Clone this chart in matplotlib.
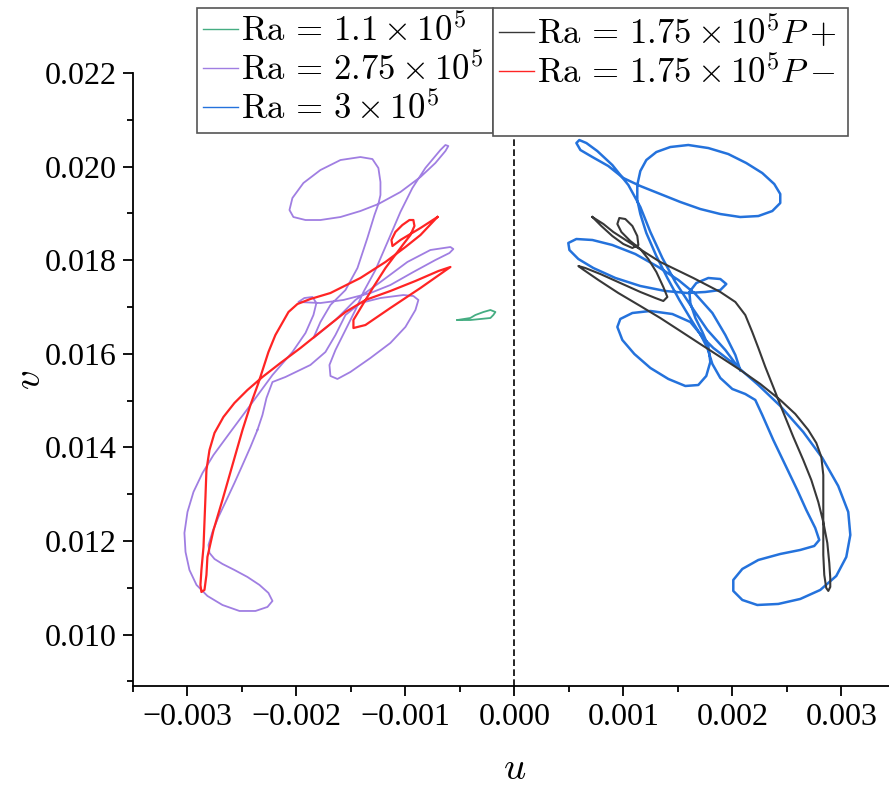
import numpy as np
import matplotlib.pyplot as plt
from matplotlib.lines import Line2D
from matplotlib.ticker import MultipleLocator, FuncFormatter

plt.rcParams['font.family'] = 'Liberation Serif'
plt.rcParams['mathtext.fontset'] = 'cm'

# trajectories in the (u, v) plane, values in units of 1e-3
u_ra11 = [-0.523, -0.404, -0.358, -0.284, -0.220, -0.174, -0.193, -0.220, -0.404, -0.523]
v_ra11 = [16.722, 16.765, 16.829, 16.893, 16.936, 16.893, 16.829, 16.765, 16.722, 16.722]

u_ra275 = [-2.358, -2.422, -2.495, -2.569, -2.642, -2.716, -2.771, -2.807, -2.798, -2.752,
           -2.679, -2.569, -2.450, -2.339, -2.257, -2.220, -2.266, -2.376, -2.523, -2.679,
           -2.817, -2.917, -2.982, -3.018, -3.028, -3.000, -2.945, -2.862, -2.761, -2.606,
           -2.422, -2.220, -2.037, -1.917, -1.844, -1.817, -1.853, -1.927, -1.982, -1.780,
           -1.569, -1.321, -1.138, -0.927, -0.725, -0.596, -0.560, -0.587, -0.771, -0.982,
           -1.229, -1.459, -1.642, -1.844, -1.780, -1.688, -1.550, -1.440, -1.349, -1.284,
           -1.248, -1.229, -1.229, -1.248, -1.303, -1.413, -1.596, -1.780, -1.936, -2.037,
           -2.064, -2.028, -1.917, -1.780, -1.596, -1.413, -1.248, -1.046, -0.862, -0.725,
           -0.633, -0.606, -0.633, -0.679, -0.817, -0.936, -1.046, -1.156, -1.275, -1.385,
           -1.459, -1.550, -1.642, -1.697, -1.688, -1.624, -1.505, -1.321, -1.138, -1.000,
           -0.908, -0.881, -0.927, -1.018, -1.229, -1.413, -1.550, -1.642, -1.734, -1.872,
           -2.101, -2.220, -2.275, -2.312, -2.358]
v_ra275 = [14.372, 14.009, 13.624, 13.239, 12.876, 12.513, 12.192, 11.915, 11.744, 11.615,
           11.509, 11.380, 11.231, 11.060, 10.889, 10.718, 10.590, 10.504, 10.504, 10.632,
           10.825, 11.060, 11.380, 11.765, 12.171, 12.620, 13.047, 13.453, 13.838, 14.329,
           14.906, 15.547, 16.038, 16.444, 16.829, 17.085, 17.214, 17.192, 17.107, 17.085,
           17.150, 17.299, 17.470, 17.748, 18.004, 18.154, 18.239, 18.282, 18.218, 17.962,
           17.534, 17.150, 16.722, 16.338, 16.679, 17.043, 17.363, 17.833, 18.474, 18.966,
           19.201, 19.393, 19.671, 19.970, 20.162, 20.205, 20.141, 19.927, 19.650, 19.329,
           19.073, 18.923, 18.859, 18.859, 18.923, 19.051, 19.201, 19.457, 19.778, 20.077,
           20.333, 20.440, 20.462, 20.355, 19.970, 19.543, 19.030, 18.432, 17.791, 17.321,
           16.936, 16.509, 16.081, 15.761, 15.526, 15.462, 15.611, 15.910, 16.231, 16.573,
           16.936, 17.150, 17.235, 17.256, 17.192, 17.085, 16.829, 16.402, 16.038, 15.761,
           15.504, 15.397, 15.056, 14.692, 14.372]

u_ra3 = [2.073, 1.936, 1.771, 1.615, 1.477, 1.358, 1.248, 1.156, 1.046, 0.899,
         0.761, 0.661, 0.596, 0.569, 0.606, 0.716, 0.862, 1.000, 1.156, 1.339,
         1.523, 1.706, 1.890, 2.073, 2.239, 2.367, 2.440, 2.440, 2.385, 2.275,
         2.128, 1.963, 1.780, 1.596, 1.431, 1.303, 1.211, 1.156, 1.128, 1.128,
         1.156, 1.211, 1.303, 1.404, 1.514, 1.624, 1.716, 1.826, 2.028, 2.239,
         2.440, 2.651, 2.826, 2.972, 3.064, 3.083, 3.046, 2.954, 2.807, 2.624,
         2.422, 2.229, 2.092, 2.009, 2.009, 2.092, 2.239, 2.440, 2.624, 2.752,
         2.798, 2.761, 2.679, 2.596, 2.486, 2.376, 2.275, 2.211, 2.119, 2.000,
         1.890, 1.817, 1.771, 1.706, 1.615, 1.450, 1.248, 1.083, 0.972, 0.945,
         0.991, 1.101, 1.248, 1.413, 1.569, 1.688, 1.761, 1.798, 1.780, 1.725,
         1.661, 1.615, 1.606, 1.670, 1.780, 1.890, 1.945, 1.890, 1.752, 1.587,
         1.385, 1.156, 0.927, 0.725, 0.587, 0.505, 0.495, 0.569, 0.716, 0.899,
         1.110, 1.321, 1.505, 1.661, 1.817, 1.936, 2.028, 2.073]
v_ra3 = [15.654, 16.081, 16.509, 17.043, 17.534, 18.047, 18.603, 19.137, 19.607, 20.034,
         20.333, 20.504, 20.568, 20.504, 20.355, 20.205, 20.013, 19.756, 19.585, 19.415,
         19.244, 19.094, 18.987, 18.923, 18.944, 19.051, 19.222, 19.415, 19.628, 19.863,
         20.077, 20.269, 20.397, 20.462, 20.419, 20.312, 20.141, 19.906, 19.607, 19.286,
         18.987, 18.581, 18.090, 17.620, 17.150, 16.722, 16.380, 16.124, 15.761, 15.333,
         14.885, 14.329, 13.774, 13.175, 12.620, 12.128, 11.658, 11.252, 10.953, 10.761,
         10.654, 10.632, 10.739, 10.932, 11.167, 11.402, 11.594, 11.722, 11.808, 11.893,
         12.021, 12.278, 12.662, 13.090, 13.624, 14.158, 14.692, 15.013, 15.141, 15.248,
         15.483, 15.782, 16.124, 16.423, 16.679, 16.850, 16.915, 16.872, 16.744, 16.573,
         16.295, 15.996, 15.697, 15.462, 15.312, 15.333, 15.526, 15.825, 16.167, 16.466,
         16.765, 17.085, 17.321, 17.513, 17.620, 17.598, 17.491, 17.363, 17.321, 17.299,
         17.342, 17.449, 17.620, 17.833, 18.026, 18.218, 18.368, 18.453, 18.432, 18.325,
         18.132, 17.855, 17.577, 17.278, 16.872, 16.402, 15.974, 15.654]

u_pplus = [0.716, 0.817, 0.908, 1.092, 1.339, 1.642, 1.890, 2.028, 2.119, 2.183,
           2.239, 2.303, 2.376, 2.459, 2.560, 2.651, 2.725, 2.789, 2.835, 2.872,
           2.890, 2.899, 2.899, 2.881, 2.862, 2.844, 2.835, 2.835, 2.835, 2.835,
           2.817, 2.771, 2.697, 2.578, 2.440, 2.257, 2.073, 1.890, 1.706, 1.523,
           1.339, 1.156, 0.954, 0.771, 0.624, 0.587, 0.651, 0.789, 0.972, 1.156,
           1.294, 1.367, 1.404, 1.367, 1.303, 1.229, 1.156, 1.064, 0.982, 0.945,
           0.963, 1.018, 1.083, 1.128, 1.138, 1.083, 1.000, 0.899, 0.798, 0.716]
v_pplus = [18.923, 18.774, 18.603, 18.325, 17.962, 17.620, 17.321, 17.107, 16.829, 16.466,
           16.124, 15.718, 15.291, 14.799, 14.222, 13.731, 13.303, 12.833, 12.406, 11.957,
           11.530, 11.209, 11.017, 10.932, 10.996, 11.274, 11.701, 12.235, 12.876, 13.410,
           13.795, 14.094, 14.372, 14.714, 15.013, 15.355, 15.654, 15.932, 16.209, 16.487,
           16.765, 17.021, 17.299, 17.577, 17.812, 17.876, 17.833, 17.705, 17.513, 17.321,
           17.192, 17.128, 17.214, 17.427, 17.748, 18.026, 18.239, 18.410, 18.603, 18.774,
           18.902, 18.880, 18.731, 18.517, 18.325, 18.261, 18.346, 18.517, 18.731, 18.923]

u_pminus = [-0.706, -0.862, -1.046, -1.119, -1.128, -1.092, -1.028, -0.963, -0.927, -0.917,
            -0.954, -1.018, -1.073,
            -1.183, -1.294, -1.394, -1.477, -1.477, -1.367, -1.138, -0.862, -0.587, -0.697,
            -0.908, -1.138, -1.367, -1.550, -1.780, -1.963, -2.147, -2.312, -2.450, -2.569,
            -2.670, -2.752, -2.798, -2.826, -2.835, -2.853, -2.872, -2.881, -2.872, -2.844,
            -2.826, -2.817, -2.761, -2.679, -2.587, -2.495, -2.422, -2.349, -2.257, -2.193,
            -2.073, -1.991, -1.872, -1.688, -1.413, -1.183, -1.000, -0.862, -0.706]
v_pminus = [18.923, 18.688, 18.432, 18.303, 18.432, 18.603, 18.752, 18.859, 18.859, 18.731,
            18.538, 18.346, 18.175,
            17.833, 17.427, 17.043, 16.722, 16.551, 16.615, 16.979, 17.406, 17.855, 17.769,
            17.556, 17.342, 17.150, 16.893, 16.466, 16.124, 15.803, 15.504, 15.226, 14.949,
            14.650, 14.308, 13.944, 13.517, 12.940, 11.872, 11.380, 11.060, 10.910, 10.953,
            11.274, 11.658, 12.235, 12.876, 13.624, 14.372, 14.906, 15.376, 16.038, 16.402,
            16.893, 17.064, 17.171, 17.299, 17.620, 17.962, 18.282, 18.538, 18.923]

labels_left = [r'$\mathrm{Ra}\,=\,1.1\times10^5$', r'$\mathrm{Ra}\,=\,2.75\times10^5$',
               r'$\mathrm{Ra}\,=\,3\times10^5$']
labels_right = [r'$\mathrm{Ra}\,=\,1.75\times10^5P+$', r'$\mathrm{Ra}\,=\,1.75\times10^5P-$']

c_ra11, c_ra275, c_ra3 = '#45ad82', '#a07ee2', '#2472dc'
c_pplus, c_pminus = '#383838', '#ff2424'

fig = plt.figure(figsize=(8.89, 7.87), dpi=100)
ax = fig.add_axes([0.1496, 0.1283, 0.858, 0.7789])

ax.axvline(0, color='k', ls=(0, (4, 2)), lw=1.2, zorder=0)

s = 1e-3
ax.plot(np.array(u_ra11) * s, np.array(v_ra11) * s, color=c_ra11, lw=1.3)
ax.plot(np.array(u_ra275) * s, np.array(v_ra275) * s, color=c_ra275, lw=1.3)
ax.plot(np.array(u_ra3) * s, np.array(v_ra3) * s, color=c_ra3, lw=1.8)
ax.plot(np.array(u_pplus) * s, np.array(v_pplus) * s, color=c_pplus, lw=1.5)
ax.plot(np.array(u_pminus) * s, np.array(v_pminus) * s, color=c_pminus, lw=1.6)

ax.set_xlim(-0.0035, 0.0035)
ax.set_ylim(0.0089, 0.022)
ax.spines['top'].set_visible(False)
ax.spines['right'].set_visible(False)
for sp in ['left', 'bottom']:
    ax.spines[sp].set_linewidth(1.3)

ax.xaxis.set_major_locator(MultipleLocator(0.001))
ax.xaxis.set_minor_locator(MultipleLocator(0.0005))
ax.yaxis.set_major_locator(MultipleLocator(0.002))
ax.yaxis.set_minor_locator(MultipleLocator(0.001))


def fmt(x, pos):
    if abs(x) < 1e-9:
        x = 0.0
    return f'{x:.3f}'.replace('-', '\u2212')


ax.xaxis.set_major_formatter(FuncFormatter(fmt))
ax.yaxis.set_major_formatter(FuncFormatter(fmt))
ax.tick_params(which='major', direction='out', length=7, width=1.3, labelsize=23, pad=5)
ax.tick_params(which='minor', direction='out', length=4, width=1.3)

ax.set_xlabel('$u$', fontsize=28, labelpad=14)
ax.set_ylabel('$v$', fontsize=28)
ax.yaxis.set_label_coords(-0.11, 0.5)

h_left = [Line2D([], [], color=c, lw=1) for c in (c_ra11, c_ra275, c_ra3)]
h_right = [Line2D([], [], color=c, lw=1) for c in (c_pplus, c_pminus)]
h_right.append(Line2D([], [], color='none'))
leg_kw = dict(loc='upper left', mode='expand', bbox_transform=fig.transFigure,
              frameon=True, fancybox=False, framealpha=1, edgecolor='#555555',
              fontsize=25, handlelength=1.0, handletextpad=0.08, borderpad=0.18,
              labelspacing=0.12, borderaxespad=0)
leg1 = fig.legend(h_left, labels_left, bbox_to_anchor=(0.2216, 0.9898, 0.333, 0), **leg_kw)
leg2 = fig.legend(h_right, labels_right + [labels_left[2]],
                  bbox_to_anchor=(0.5546, 0.9898, 0.3993, 0), **leg_kw)
leg2.get_texts()[2].set_color('none')
for lg in (leg1, leg2):
    lg.get_frame().set_linewidth(1.2)

fig.savefig('out.png', dpi=100)
